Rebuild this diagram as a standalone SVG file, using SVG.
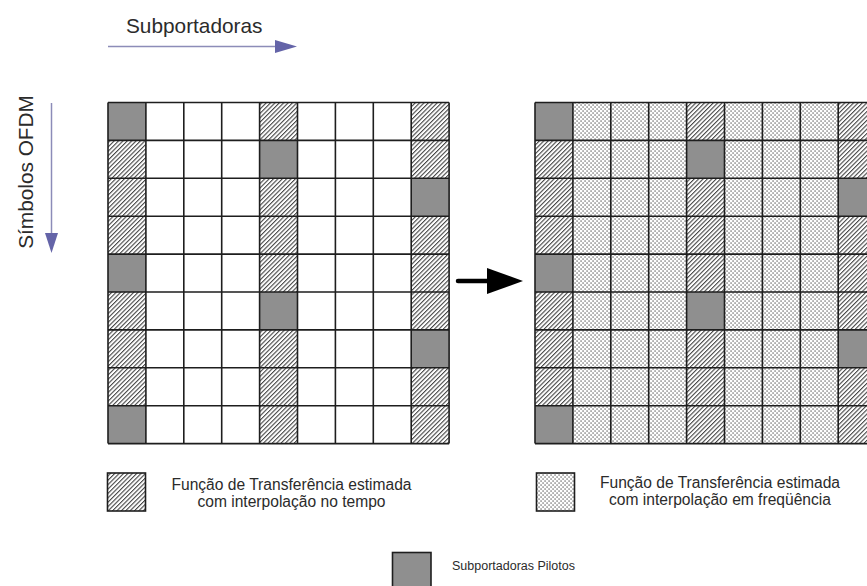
<svg xmlns="http://www.w3.org/2000/svg" width="867" height="586" viewBox="0 0 867 586">
<style>
text{font-family:"Liberation Sans",Arial,sans-serif;fill:#2b2b2b}
.ttl{font-size:20.8px}
.leg{font-size:15.6px;text-anchor:middle}
.small{font-size:12.5px}
.pilot{fill:#8f8f8f}
.hatch{fill:url(#hatch)}
.dots{fill:url(#dots)}
.grid{fill:none;stroke:#1e1e1e;stroke-width:1.6}
.box{stroke:#1e1e1e;stroke-width:1.6}
</style>
<defs>
<pattern id="hatch" patternUnits="userSpaceOnUse" width="3.1" height="10" patternTransform="rotate(45)">
<rect width="3.1" height="10" fill="#fff"/>
<line x1="0.6" y1="0" x2="0.6" y2="10" stroke="#111" stroke-width="0.85"/>
</pattern>
<pattern id="dots" patternUnits="userSpaceOnUse" width="4" height="4">
<rect width="4" height="4" fill="#fff"/>
<rect x="0.5" y="0.5" width="1.1" height="1.1" fill="#222"/>
<rect x="2.5" y="2.5" width="1.1" height="1.1" fill="#222"/>
</pattern>
</defs>

<g id="labels">
<text class="ttl" x="126" y="33">Subportadoras</text>
<text class="ttl" transform="translate(33,172) rotate(-90)" text-anchor="middle">Símbolos OFDM</text>
</g>

<g id="grid-left">
<rect x="108" y="102.5" width="341.1" height="341.1" fill="#fff"/>
<rect class="hatch" x="108" y="102.5" width="37.9" height="341.1"/>
<rect class="hatch" x="259.6" y="102.5" width="37.9" height="341.1"/>
<rect class="hatch" x="411.2" y="102.5" width="37.9" height="341.1"/>
<rect class="pilot" x="108" y="102.5" width="37.9" height="37.9"/>
<rect class="pilot" x="259.6" y="140.4" width="37.9" height="37.9"/>
<rect class="pilot" x="411.2" y="178.3" width="37.9" height="37.9"/>
<rect class="pilot" x="108" y="254.1" width="37.9" height="37.9"/>
<rect class="pilot" x="259.6" y="292" width="37.9" height="37.9"/>
<rect class="pilot" x="411.2" y="329.9" width="37.9" height="37.9"/>
<rect class="pilot" x="108" y="405.7" width="37.9" height="37.9"/>
<path class="grid" d="M108 102.5V443.6M145.9 102.5V443.6M183.8 102.5V443.6M221.7 102.5V443.6M259.6 102.5V443.6M297.5 102.5V443.6M335.4 102.5V443.6M373.3 102.5V443.6M411.2 102.5V443.6M449.1 102.5V443.6M108 102.5H449.1M108 140.4H449.1M108 178.3H449.1M108 216.2H449.1M108 254.1H449.1M108 292H449.1M108 329.9H449.1M108 367.8H449.1M108 405.7H449.1M108 443.6H449.1"/>
</g>

<g id="grid-right">
<rect class="dots" x="535" y="102.5" width="341.1" height="341.1"/>
<rect class="hatch" x="535" y="102.5" width="37.9" height="341.1"/>
<rect class="hatch" x="686.6" y="102.5" width="37.9" height="341.1"/>
<rect class="hatch" x="838.2" y="102.5" width="37.9" height="341.1"/>
<rect class="pilot" x="535" y="102.5" width="37.9" height="37.9"/>
<rect class="pilot" x="686.6" y="140.4" width="37.9" height="37.9"/>
<rect class="pilot" x="838.2" y="178.3" width="37.9" height="37.9"/>
<rect class="pilot" x="535" y="254.1" width="37.9" height="37.9"/>
<rect class="pilot" x="686.6" y="292" width="37.9" height="37.9"/>
<rect class="pilot" x="838.2" y="329.9" width="37.9" height="37.9"/>
<rect class="pilot" x="535" y="405.7" width="37.9" height="37.9"/>
<path class="grid" d="M535 102.5V443.6M572.9 102.5V443.6M610.8 102.5V443.6M648.7 102.5V443.6M686.6 102.5V443.6M724.5 102.5V443.6M762.4 102.5V443.6M800.3 102.5V443.6M838.2 102.5V443.6M876.1 102.5V443.6M535 102.5H876.1M535 140.4H876.1M535 178.3H876.1M535 216.2H876.1M535 254.1H876.1M535 292H876.1M535 329.9H876.1M535 367.8H876.1M535 405.7H876.1M535 443.6H876.1"/>
</g>

<g id="connectors">
<line x1="108" y1="46.5" x2="277" y2="46.5" stroke="#8c8cb8" stroke-width="1.5"/>
<polygon points="275,40 297,46.5 275,53" fill="#6464a8"/>
<line x1="51.5" y1="103" x2="51.5" y2="235" stroke="#8c8cb8" stroke-width="1.5"/>
<polygon points="45,233 58,233 51.5,253" fill="#6464a8"/>
<line x1="458" y1="281" x2="490" y2="281" stroke="#000" stroke-width="4.5" stroke-linecap="round"/>
<polygon points="487,268 523,281 487,294" fill="#000"/>
</g>

<g id="legend-time">
<rect class="hatch box" x="107.5" y="473" width="38" height="38"/>
<text class="leg" x="291.5" y="490">Função de Transferência estimada</text>
<text class="leg" x="291.5" y="507">com interpolação no tempo</text>
</g>

<g id="legend-freq">
<rect class="dots box" x="536.5" y="473" width="38" height="38"/>
<text class="leg" x="720" y="488">Função de Transferência estimada</text>
<text class="leg" x="720" y="505">com interpolação em freqüência</text>
</g>

<g id="legend-pilot">
<rect class="pilot box" x="392.5" y="552.5" width="38.5" height="40"/>
<text class="small" x="452" y="570">Subportadoras Pilotos</text>
</g>
</svg>
